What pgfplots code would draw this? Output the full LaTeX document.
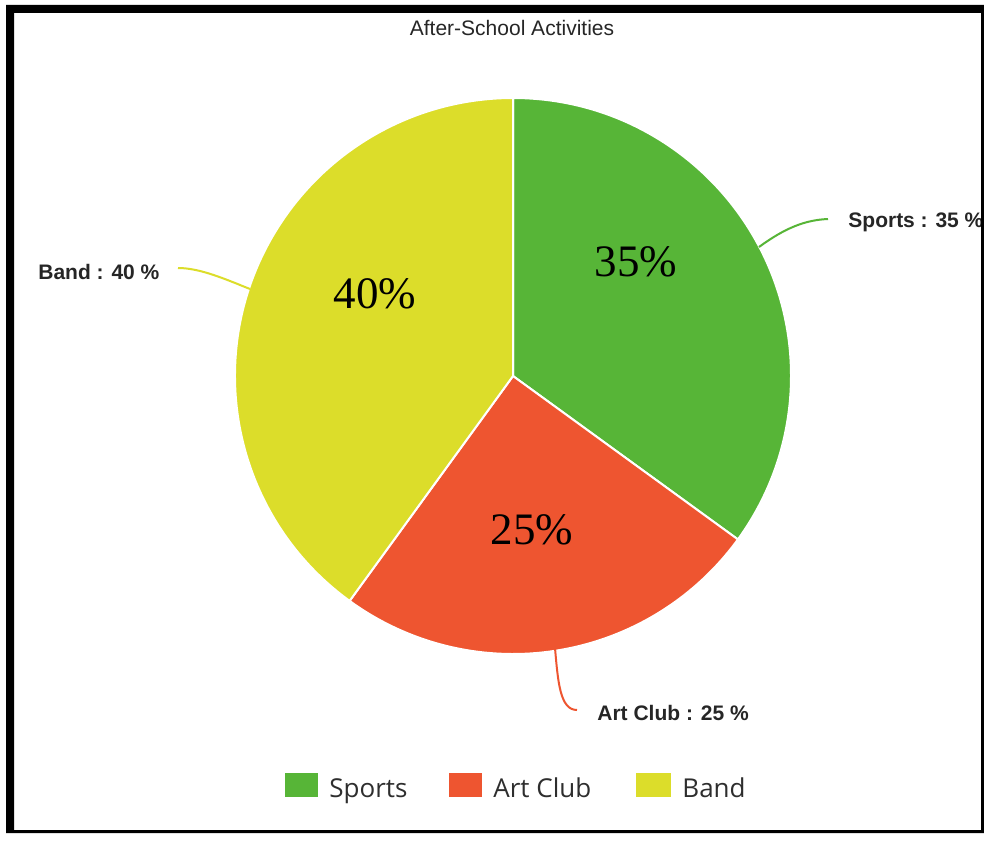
\documentclass[border=0pt]{standalone}
\usepackage{pgfplots}
\pgfplotsset{compat=1.18}
\usepackage{pgfplotstable}
\usepackage{fontspec}
\setmainfont{Liberation Sans}
\newfontfamily\seriffont{Liberation Serif}
\newfontfamily\legfont{Open Sans}
\definecolor{sportsgreen}{HTML}{57B537}
\definecolor{artred}{HTML}{EE5530}
\definecolor{bandyellow}{HTML}{DCDD2A}
\pgfplotstableread{
name pct
Sports 35
ArtClub 25
Band 40
}\piedata
\begin{document}
\begin{tikzpicture}
\pgfplotstablegetelem{0}{pct}\of\piedata \let\pA\pgfplotsretval
\pgfplotstablegetelem{1}{pct}\of\piedata \let\pB\pgfplotsretval
\pgfplotstablegetelem{2}{pct}\of\piedata \let\pC\pgfplotsretval
\pgfmathsetmacro\aZ{90}
\pgfmathsetmacro\aA{90-3.6*\pA}
\pgfmathsetmacro\aB{\aA-3.6*\pB}
\pgfmathsetmacro\aC{\aB-3.6*\pC}
\def\R{139pt}
\begin{axis}[hide axis, scale only axis, width=492pt, height=420pt,
  xmin=0, xmax=984, ymin=0, ymax=840, y dir=reverse, clip=false]
% background
\fill[white] (axis cs:0,0) rectangle (axis cs:984,840);
% title
\node[font=\fontsize{10.5}{12}\selectfont, text=black!85] at (axis cs:512,28) {After-School Activities};
% pie slices
\fill[sportsgreen, draw=white, line width=1pt] (axis cs:513,376) -- ++(\aZ:\R) arc[start angle=\aZ, end angle=\aA, radius=\R] -- cycle;
\fill[artred, draw=white, line width=1pt] (axis cs:513,376) -- ++(\aA:\R) arc[start angle=\aA, end angle=\aB, radius=\R] -- cycle;
\fill[bandyellow, draw=white, line width=1pt] (axis cs:513,376) -- ++(\aB:\R) arc[start angle=\aB, end angle=\aC, radius=\R] -- cycle;
% inner labels
\node[font=\seriffont\fontsize{22.5}{27}\selectfont] at (axis cs:636,262) {35\%};
\node[font=\seriffont\fontsize{22.5}{27}\selectfont] at (axis cs:532,530) {25\%};
\node[font=\seriffont\fontsize{22.5}{27}\selectfont] at (axis cs:375,294) {40\%};
% connectors
\draw[sportsgreen, line width=1pt] (axis cs:759,247) .. controls (axis cs:785,228) and (axis cs:805,220) .. (axis cs:828,219);
\draw[bandyellow, line width=1pt] (axis cs:250,289) .. controls (axis cs:225,279) and (axis cs:200,268) .. (axis cs:178,268);
\draw[artred, line width=1pt] (axis cs:555,648) .. controls (axis cs:558,682) and (axis cs:560,710) .. (axis cs:577,710);
% outer labels
\node[anchor=west, font=\bfseries\fontsize{10.5}{12}\selectfont, text=black!85, inner sep=0pt] at (axis cs:848,222) {Sports : 35 \%};
\node[anchor=west, font=\bfseries\fontsize{10.5}{12}\selectfont, text=black!85, inner sep=0pt] at (axis cs:38,272) {Band : 40 \%};
\node[anchor=west, font=\bfseries\fontsize{10.5}{12}\selectfont, text=black!85, inner sep=0pt] at (axis cs:597,713) {Art Club : 25 \%};
% legend
\fill[sportsgreen] (axis cs:285,773) rectangle (axis cs:318,797);
\fill[artred] (axis cs:449,773) rectangle (axis cs:482,797);
\fill[bandyellow] (axis cs:636,773) rectangle (axis cs:671,797);
\node[anchor=base west, font=\legfont\fontsize{13}{15}\selectfont, text=black!82, inner sep=0pt] at (axis cs:329,797) {Sports};
\node[anchor=base west, font=\legfont\fontsize{13}{15}\selectfont, text=black!82, inner sep=0pt] at (axis cs:493,797) {Art Club};
\node[anchor=base west, font=\legfont\fontsize{13}{15}\selectfont, text=black!82, inner sep=0pt] at (axis cs:682,797) {Band};
% frame
\fill[black, even odd rule] (axis cs:6,5) rectangle (axis cs:984,833) (axis cs:14,13) rectangle (axis cs:981,830);
\end{axis}
\pgfresetboundingbox
\path[use as bounding box] (current axis.south west) rectangle (current axis.north east);
\end{tikzpicture}
\end{document}
